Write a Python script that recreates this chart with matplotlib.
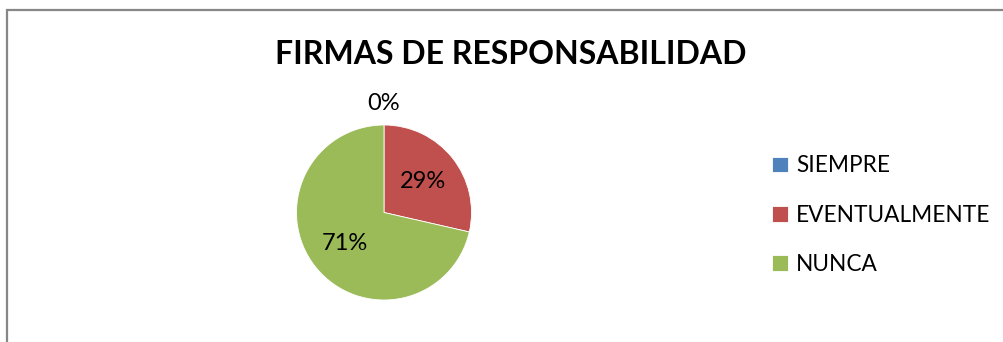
import matplotlib
matplotlib.use('Agg')
import matplotlib.pyplot as plt
from matplotlib.patches import Rectangle
import numpy as np

categories = ['SIEMPRE', 'EVENTUALMENTE', 'NUNCA']
counts = [0, 2, 5]
colors = ['#4F81BD', '#C0504D', '#9BBB59']
title = 'FIRMAS DE RESPONSABILIDAD'

plt.rcParams['font.family'] = ['Lato', 'DejaVu Sans']

W, H = 1004, 342
fig = plt.figure(figsize=(W / 100, H / 100), dpi=100)

# chart frame (runs off the right and bottom edges)
fig.patches.append(Rectangle((7 / W, -0.2), 1.2, 1 - 10 / H + 0.2, transform=fig.transFigure,
                             fill=False, edgecolor='#878787', linewidth=1.6))

fig.text(511 / W, 1 - 55 / H, title, ha='center', va='center',
         fontsize=23, fontweight='bold')

cx, cy, r = 384, 212.5, 87.5
ax = fig.add_axes([(cx - r) / W, (H - cy - r) / H, 2 * r / W, 2 * r / H])
wedges, texts, autotexts = ax.pie(counts, colors=colors, startangle=90, counterclock=False,
                                  autopct=lambda p: '%.0f%%' % p, pctdistance=0.57,
                                  wedgeprops=dict(linewidth=0.6, edgecolor='white'),
                                  textprops=dict(fontsize=17))
ax.set_xlim(-1, 1)
ax.set_ylim(-1, 1)

# zero slices get their label outside the pie
for w, t, c in zip(wedges, autotexts, counts):
    if c == 0:
        ang = np.deg2rad((w.theta1 + w.theta2) / 2)
        t.set_position((1.24 * np.cos(ang), 1.24 * np.sin(ang)))

fig.legend(wedges, categories, loc='upper left', bbox_to_anchor=(752 / W, 1 - 135 / H),
           frameon=False, fontsize=16.3, handlelength=0.7, handleheight=0.7,
           handletextpad=0.35, labelspacing=1.25)

fig.savefig('out.png', dpi=100)
